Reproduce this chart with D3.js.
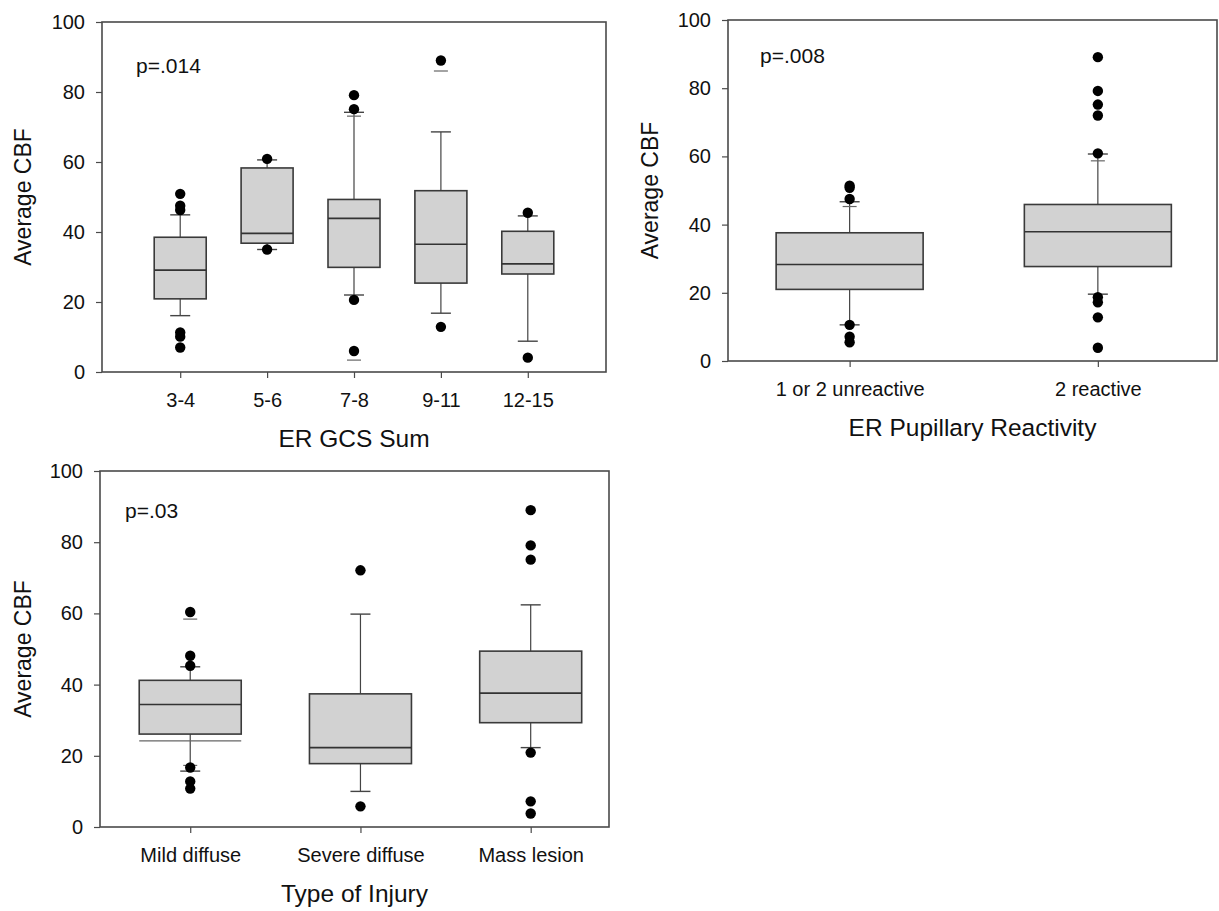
<!DOCTYPE html>
<html>
<head>
    <title>Average CBF box plots</title>
    <script src="https://d3js.org/d3.v7.min.js"></script>
    <style>
        body { margin: 0; background: #fff; }
        svg { display: block; font-family: "Liberation Sans", Arial, sans-serif; }
        .tick text { fill: #111; }
    </style>
</head>
<body>
    <svg id="chart" width="1219" height="911"></svg>
    <script>
        // ER GCS Sum
        const gcsCats = ["3-4", "5-6", "7-8", "9-11", "12-15"];
        const gcsQ1 = [20.9, 36.8, 29.9, 25.4, 28.0];
        const gcsMed = [29.1, 39.6, 43.9, 36.5, 30.9];
        const gcsQ3 = [38.5, 58.3, 49.3, 51.8, 40.2];
        const gcsLo = [16.1, 35.0, 22.0, 16.8, 8.8];
        const gcsHi = [44.9, 60.6, 74.2, 68.6, 44.6];
        const gcsOut = [[50.9, 47.5, 46.3, 11.3, 10.1, 7.0], [60.9, 35.0], [79.1, 75.1, 20.6, 6.0], [89.0, 12.9], [45.5, 4.1]];
        const gcsDash = [[], [], [73.1, 3.4], [86.0], []];

        // ER Pupillary Reactivity
        const pupCats = ["1 or 2 unreactive", "2 reactive"];
        const pupQ1 = [21.0, 27.7];
        const pupMed = [28.3, 37.9];
        const pupQ3 = [37.6, 45.9];
        const pupLo = [10.6, 19.6];
        const pupHi = [46.7, 60.7];
        const pupOut = [[51.4, 50.8, 47.5, 10.6, 7.1, 5.5], [89.1, 79.2, 75.2, 72.0, 60.9, 18.7, 17.2, 12.8, 3.9]];
        const pupDash = [[45.3], [58.7]];

        // Type of Injury
        const injCats = ["Mild diffuse", "Severe diffuse", "Mass lesion"];
        const injQ1 = [26.1, 17.8, 29.3];
        const injMed = [34.4, 22.3, 37.6];
        const injQ3 = [41.2, 37.4, 49.4];
        const injLo = [15.7, 10.0, 22.3];
        const injHi = [45.0, 59.8, 62.4];
        const injOut = [[60.4, 48.1, 45.3, 16.7, 12.8, 10.8], [72.1, 5.8], [89.0, 79.1, 75.1, 20.9, 7.2, 3.8]];
        const injDash = [[58.4, 17.3], [], []];
        const injLine = [24.2, null, null];

        const yTicks = [0, 20, 40, 60, 80, 100];

        const svg = d3.select("#chart");

        function boxPanel(opt) {
            const x = d3.scaleLinear().domain(opt.xDomain).range([opt.left, opt.right]);
            const y = d3.scaleLinear().domain([0, 100]).range([opt.bottom, opt.top]);
            const g = svg.append("g");

            const rows = opt.cats.map((c, i) => ({
                cat: c, i: i + 1,
                q1: opt.q1[i], med: opt.med[i], q3: opt.q3[i],
                lo: opt.lo[i], hi: opt.hi[i],
                out: opt.out[i], dash: opt.dash[i],
                line: opt.line ? opt.line[i] : null
            }));

            // frame
            g.append("rect")
                .attr("x", opt.left).attr("y", opt.top)
                .attr("width", opt.right - opt.left).attr("height", opt.bottom - opt.top)
                .attr("fill", "none").attr("stroke", "#4a4a4a").attr("stroke-width", 1.6);

            // axes
            const ya = g.append("g")
                .attr("transform", `translate(${opt.left},0)`)
                .call(d3.axisLeft(y).tickValues(yTicks).tickSize(6).tickPadding(11));
            ya.select(".domain").remove();
            ya.selectAll("line").attr("stroke", "#4a4a4a").attr("stroke-width", 1.2);
            ya.selectAll("text").attr("font-size", 20).attr("font-family", "Liberation Sans, Arial");

            const xa = g.append("g")
                .attr("transform", `translate(0,${opt.bottom})`)
                .call(d3.axisBottom(x).tickValues(rows.map(d => d.i))
                    .tickFormat(v => opt.cats[v - 1]).tickSize(6).tickPadding(15));
            xa.select(".domain").remove();
            xa.selectAll("line").attr("stroke", "#4a4a4a").attr("stroke-width", 1.2);
            xa.selectAll("text").attr("font-size", 20).attr("font-family", "Liberation Sans, Arial");

            const half = opt.boxW / 2;
            const cell = g.selectAll("g.box").data(rows).join("g").attr("class", "box");

            // whiskers
            cell.append("line")
                .attr("x1", d => x(d.i)).attr("x2", d => x(d.i))
                .attr("y1", d => y(d.q3)).attr("y2", d => y(d.hi))
                .attr("stroke", "#444").attr("stroke-width", 1.2);
            cell.append("line")
                .attr("x1", d => x(d.i)).attr("x2", d => x(d.i))
                .attr("y1", d => y(d.q1)).attr("y2", d => y(d.lo))
                .attr("stroke", "#444").attr("stroke-width", 1.2);
            cell.selectAll("line.cap").data(d => [d.lo, d.hi].map(v => ({ v, i: d.i }))).join("line")
                .attr("class", "cap")
                .attr("x1", d => x(d.i) - 10).attr("x2", d => x(d.i) + 10)
                .attr("y1", d => y(d.v)).attr("y2", d => y(d.v))
                .attr("stroke", "#444").attr("stroke-width", 1.4);
            cell.selectAll("line.dash").data(d => d.dash.map(v => ({ v, i: d.i }))).join("line")
                .attr("class", "dash")
                .attr("x1", d => x(d.i) - 7).attr("x2", d => x(d.i) + 7)
                .attr("y1", d => y(d.v)).attr("y2", d => y(d.v))
                .attr("stroke", "#666").attr("stroke-width", 1.2);

            // box
            cell.append("rect")
                .attr("x", d => x(d.i) - half).attr("width", opt.boxW)
                .attr("y", d => y(d.q3)).attr("height", d => y(d.q1) - y(d.q3))
                .attr("fill", "#d2d2d2").attr("stroke", "#3a3a3a").attr("stroke-width", 1.6);
            cell.append("line")
                .attr("x1", d => x(d.i) - half).attr("x2", d => x(d.i) + half)
                .attr("y1", d => y(d.med)).attr("y2", d => y(d.med))
                .attr("stroke", "#333").attr("stroke-width", 1.6);
            cell.filter(d => d.line != null).append("line")
                .attr("x1", d => x(d.i) - half).attr("x2", d => x(d.i) + half)
                .attr("y1", d => y(d.line)).attr("y2", d => y(d.line))
                .attr("stroke", "#666").attr("stroke-width", 1.3);

            // outliers
            cell.selectAll("circle").data(d => d.out.map(v => ({ v, i: d.i }))).join("circle")
                .attr("cx", d => x(d.i)).attr("cy", d => y(d.v)).attr("r", 5.2)
                .attr("fill", "#000");

            // labels
            g.append("text")
                .attr("x", opt.pX).attr("y", opt.pY)
                .attr("font-size", 21).attr("fill", "#111")
                .text(opt.p);
            g.append("text")
                .attr("x", (opt.left + opt.right) / 2).attr("y", opt.bottom + 75)
                .attr("text-anchor", "middle").attr("font-size", 24.5).attr("fill", "#111")
                .text(opt.xTitle);
            g.append("text")
                .attr("transform", `translate(${opt.yTitleX},${(opt.top + opt.bottom) / 2}) rotate(-90)`)
                .attr("text-anchor", "middle").attr("font-size", 23).attr("fill", "#111")
                .text("Average CBF");
        }

        boxPanel({
            cats: gcsCats, q1: gcsQ1, med: gcsMed, q3: gcsQ3, lo: gcsLo, hi: gcsHi, out: gcsOut, dash: gcsDash,
            left: 102, right: 606, top: 22, bottom: 372, xDomain: [0.1, 5.9], boxW: 52,
            p: "p=.014", pX: 136, pY: 73, xTitle: "ER GCS Sum", yTitleX: 31
        });
        boxPanel({
            cats: pupCats, q1: pupQ1, med: pupMed, q3: pupQ3, lo: pupLo, hi: pupHi, out: pupOut, dash: pupDash,
            left: 728, right: 1217, top: 20, bottom: 361, xDomain: [0.51, 2.48], boxW: 147,
            p: "p=.008", pX: 760, pY: 63, xTitle: "ER Pupillary Reactivity", yTitleX: 658
        });
        boxPanel({
            cats: injCats, q1: injQ1, med: injMed, q3: injQ3, lo: injLo, hi: injHi, out: injOut, dash: injDash, line: injLine,
            left: 100, right: 609, top: 471, bottom: 827, xDomain: [0.47, 3.46], boxW: 102,
            p: "p=.03", pX: 125, pY: 518, xTitle: "Type of Injury", yTitleX: 31
        });
    </script>
</body>
</html>
